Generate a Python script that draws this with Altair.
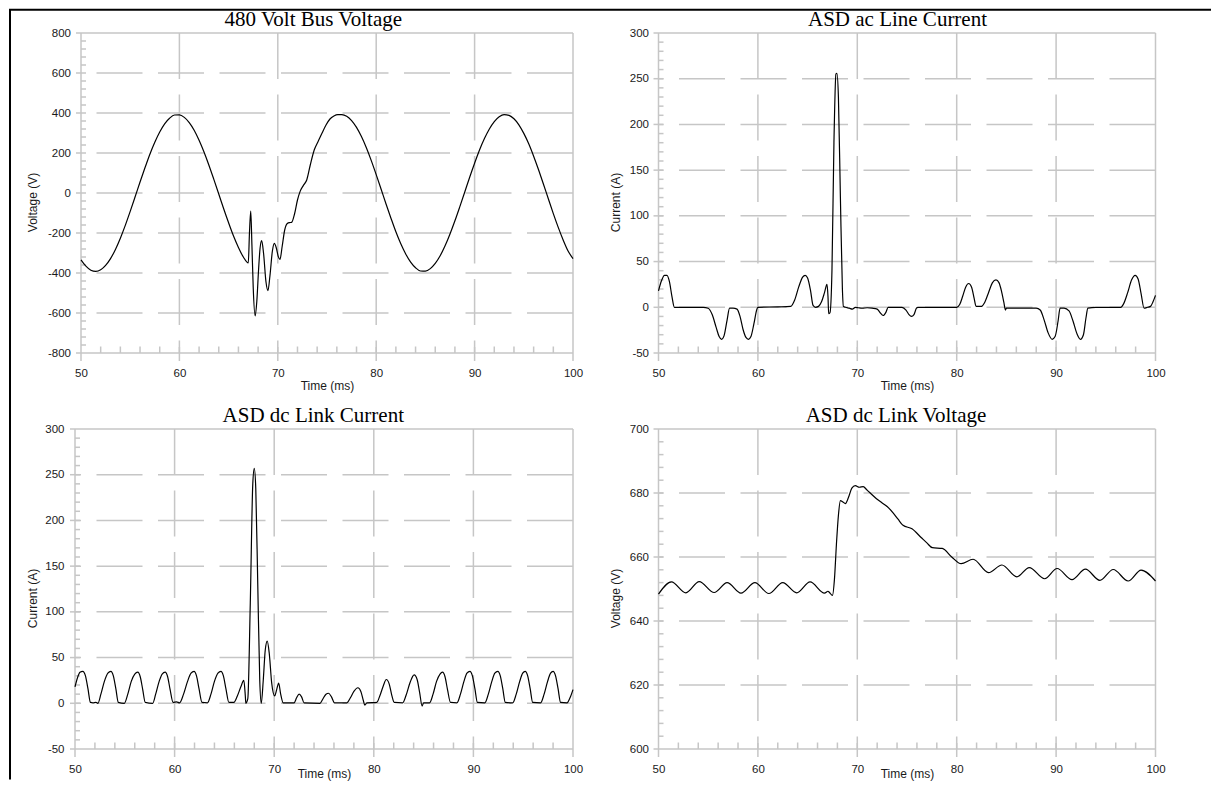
import altair as alt
import pandas as pd

# ---------------- data ----------------
X_TICKS = [50, 60, 70, 80, 90, 100]
X_MINOR = [52, 54, 56, 58, 62, 64, 66, 68, 72, 74, 76, 78, 82, 84, 86, 88, 92, 94, 96, 98]

bus_yticks = [-800, -600, -400, -200, 0, 200, 400, 600, 800]
cur_yticks = [-50, 0, 50, 100, 150, 200, 250, 300]
dcv_yticks = [600, 620, 640, 660, 680, 700]

bus_t = [50.0, 50.5, 51.0, 51.5, 52.0, 52.5, 53.0, 53.5, 54.0, 54.5, 55.0, 55.5,
         56.0, 56.5, 57.0, 57.5, 58.0, 58.5, 59.0, 59.5, 60.0, 60.5, 61.0, 61.5,
         62.0, 62.5, 63.0, 63.5, 64.0, 64.5, 65.0, 65.5, 66.0, 66.5, 67.0, 67.12,
         67.25, 67.37, 67.5, 67.7, 67.87, 68.05, 68.2, 68.36, 68.55, 68.8, 69.0,
         69.2, 69.45, 69.65, 69.85, 70.05, 70.22, 70.45, 70.7, 70.97, 71.2, 71.4,
         71.7, 72.0, 72.26, 72.6, 72.94, 73.3, 73.7, 74.1, 74.5, 74.9, 75.3, 75.7,
         76.1, 76.5, 77.0, 77.5, 78.0, 78.5, 79.0, 79.5, 80.0, 80.5, 81.0, 81.5,
         82.0, 82.5, 83.0, 83.5, 84.0, 84.5, 85.0, 85.5, 86.0, 86.5, 87.0, 87.5,
         88.0, 88.5, 89.0, 89.5, 90.0, 90.5, 91.0, 91.5, 92.0, 92.5, 93.0, 93.5,
         94.0, 94.5, 95.0, 95.5, 96.0, 96.5, 97.0, 97.5, 98.0, 98.5, 99.0, 99.5,
         100.0]
bus_v = [-334, -366, -386, -392, -384, -362, -328, -282, -226, -162, -92, -19,
         55, 126, 194, 254, 305, 346, 374, 390, 391, 378, 352, 314,
         264, 205, 139, 68, -5, -79, -149, -215, -272, -320, -350, -200,
         -90, -260, -470, -615, -540, -380, -275, -238, -300, -445, -488,
         -415, -290, -252, -275, -318, -332, -265, -185, -152, -148, -147,
         -105, -35, 7, 38, 65, 140, 215, 258, 300, 340, 370, 385,
         392, 392, 384, 362, 328, 282, 226, 162, 92, 19, -55, -126,
         -194, -254, -305, -346, -374, -390, -391, -378, -352, -314, -264, -205,
         -139, -68, 5, 79, 149, 215, 272, 320, 357, 381, 392, 388,
         371, 341, 298, 246, 184, 116, 44, -30, -103, -172, -235, -290,
         -328]

ac_t = [50.0, 50.3, 50.6, 50.85, 51.1, 51.35, 51.6, 52.0, 54.5, 55.0, 55.4, 55.8,
        56.1, 56.35, 56.6, 56.9, 57.15, 57.5, 57.9, 58.2, 58.5, 58.8, 59.05, 59.3,
        59.6, 59.9, 60.0, 62.0, 63.3, 63.7, 64.1, 64.5, 64.75, 65.0, 65.3, 65.55,
        65.8, 66.1, 66.4, 66.7, 66.95, 67.05, 67.12, 67.25, 67.45, 67.65, 67.85,
        67.95, 68.1, 68.3, 68.5, 68.6, 68.8, 69.2, 69.5, 69.8, 70.1, 70.5, 71.0,
        71.5, 72.0, 72.3, 72.6, 72.9, 73.1, 74.5, 74.9, 75.2, 75.45, 75.7, 75.95,
        76.1, 80.0, 80.3, 80.6, 80.9, 81.2, 81.5, 81.75, 81.95, 82.5, 82.8, 83.2,
        83.6, 83.95, 84.25, 84.5, 84.75, 84.9, 85.0, 86.0, 88.0, 88.4, 88.8, 89.2,
        89.6, 89.9, 90.2, 90.4, 90.8, 91.3, 91.7, 92.1, 92.45, 92.75, 93.0, 93.2,
        94.0, 96.5, 96.8, 97.2, 97.6, 97.95, 98.25, 98.55, 98.85, 99.2, 99.5,
        99.75, 100.0]
ac_i = [18, 29, 35, 35, 28, 12, 0, 0, 0, -1, -8, -22,
        -32, -35, -31, -14, -1, -1, -2, -10, -24, -33, -35, -32,
        -18, -2, 0, 0.5, 1, 8, 22, 33, 35, 32, 18, 2,
        0, 1, 6, 16, 25, 12, -7, -6, 40, 180, 255,
        256, 230, 120, 20, 1, 0, -1, -2, 0, -0.5, -1, -0.5,
        -1, -2, -6, -9, -5, 0, 0, -3, -8, -10, -8, -1,
        0, 0, 3, 12, 22, 26, 22, 10, 1, 1, 5, 16,
        27, 30, 27, 18, 5, -3, -1, -1, -1, -3, -14, -28,
        -35, -32, -15, -1, -1, -4, -15, -29, -35, -30, -12, -1,
        0, 0, 4, 16, 30, 35, 31, 15, -1, 0, 1,
        6, 13]

dci_t = [50.0, 50.25, 50.5, 50.78, 51.05, 51.3, 51.55, 51.8, 52.1, 52.3, 52.6, 52.95,
         53.3, 53.6, 53.85, 54.1, 54.35, 54.95, 55.3, 55.65, 56.0, 56.3, 56.55, 56.8,
         57.05, 57.8, 58.1, 58.45, 58.75, 59.05, 59.3, 59.55, 59.85, 60.2, 60.5, 60.9,
         61.3, 61.65, 61.95, 62.2, 62.45, 62.75, 63.3, 63.65, 64.0, 64.35, 64.65, 64.9,
         65.15, 65.45, 65.95, 66.3, 66.65, 66.95, 67.1, 67.15, 67.35, 67.6, 67.85, 68.0,
         68.15, 68.35, 68.55, 68.7, 68.9, 69.1, 69.3, 69.5, 69.75, 70.05, 70.25, 70.45,
         70.65, 70.9, 72.0, 72.25, 72.5, 72.75, 73.0, 74.6, 74.9, 75.2, 75.45, 75.75,
         76.05, 77.3, 77.65, 78.0, 78.4, 78.7, 78.95, 79.1, 79.3, 80.3, 80.6, 80.95,
         81.25, 81.55, 81.8, 82.05, 82.9, 83.25, 83.65, 84.05, 84.35, 84.6, 84.85, 85.0,
         85.6, 85.95, 86.3, 86.65, 86.9, 87.15, 87.4, 87.7, 88.35, 88.7, 89.05, 89.35,
         89.65, 89.9, 90.15, 90.4, 91.15, 91.5, 91.85, 92.15, 92.45, 92.7, 92.95, 93.2,
         93.95, 94.3, 94.65, 94.95, 95.2, 95.45, 95.7, 95.95, 96.75, 97.1, 97.45, 97.75,
         98.0, 98.25, 98.5, 98.75, 99.4, 99.7, 100.0]
dci_i = [18, 28, 34, 35, 30, 16, 1, 0.5, 1, 0, 10, 24,
         33, 35, 30, 16, 1, 0, 10, 24, 32, 34, 29, 15,
         1, 0, 10, 24, 32, 34, 29, 15, 1, 1.5, 0.5, 10,
         24, 33, 35, 30, 16, 1, 0.5, 10, 24, 33, 35, 30,
         16, 1, 1, 8, 18, 25, 8, 0, 5, 110, 240, 257,
         235, 130, 25, 0, 25, 58, 68, 55, 22, 8, 15, 22,
         10, 0.5, 0.5, 6, 10, 7, 0.5, 0, 5, 10, 11, 7,
         0.5, 0.5, 6, 13, 17, 13, 3, -2, 0.5, 1, 8, 19,
         26, 21, 9, 1, 0.5, 9, 23, 31, 26, 12, -3, 0.5,
         0.5, 10, 24, 32, 34, 29, 15, 1, 0.5, 10, 24, 33,
         35, 30, 16, 1, 0.5, 10, 24, 33, 35, 30, 16, 1,
         0.5, 10, 24, 33, 35, 30, 16, 1, 0.5, 10, 24, 33,
         35, 30, 16, 1, 0.5, 6, 15]

dcv_t = [50.0, 51.3, 52.75, 54.1, 55.6, 56.9, 58.3, 59.7, 61.1, 62.5, 63.9, 65.25,
         66.7, 67.05, 67.2, 67.5, 67.7, 67.9, 68.1, 68.3, 68.55, 68.8, 69.1, 69.45,
         69.8, 70.2, 70.6, 70.95, 71.3, 71.9, 72.5, 73.0, 73.6, 74.1, 74.6, 75.5,
         76.45, 77.0, 77.55, 78.55, 79.5, 80.45, 81.65, 83.2, 84.55, 86.05, 87.3,
         88.85, 90.1, 91.6, 92.95, 94.4, 95.75, 97.25, 98.55, 100.0]
dcv_v = [648.4, 652.2, 648.8, 652.3, 648.9, 652.0, 648.7, 652.0, 648.6, 652.0, 648.8, 652.2,
         648.7, 649.3, 648.9, 648.0, 653.0, 664.0, 673.0, 677.6, 677.2, 676.7, 678.5, 681.5,
         682.3, 681.8, 682.0, 681.0, 680.0, 678.3, 676.9, 675.8, 673.8, 671.8, 669.9, 668.8,
         666.0, 664.4, 662.9, 662.7, 660.0, 657.9, 659.3, 655.1, 657.5, 653.8, 656.7,
         653.2, 656.4, 652.9, 656.2, 652.7, 656.1, 652.5, 655.9, 652.5]

# ---------------- styling ----------------
H = 320
GRID = "#c6c6c6"
LABEL_EXPR = "datum.value < 0 ? '-' + abs(datum.value) : '' + datum.value"


def build_panel(title_text, ytitle, t, v, yticks, n_minor, width, x0off,
                label_pad, ytitle_x, title_cx, xtitle_y, with_frame=False):
    ymin, ymax = yticks[0], yticks[-1]
    x_lo, x_hi = X_TICKS[0], X_TICKS[-1]
    plotw = width - x0off
    uy = (ymax - ymin) / H
    ux = (x_hi - x_lo) / plotw
    xs = alt.Scale(domain=[x_lo, x_hi], range=[x0off, width], nice=False, zero=False)
    ys = alt.Scale(domain=[ymin, ymax], nice=False, zero=False)

    solid = [
        (x_lo, x_lo, ymin - 8 * uy, ymax),
        (x_hi, x_hi, ymin - 8 * uy, ymax),
        (x_lo - 5 * ux, x_hi, ymin, ymin),
        (x_lo - 5 * ux, x_hi, ymax, ymax),
    ]
    for xt in X_TICKS[1:-1]:
        solid.append((xt, xt, ymin - 8 * uy, ymin + 6 * uy))
    for yt in yticks[1:-1]:
        solid.append((x_lo - 5 * ux, x_lo + 5 * ux, yt, yt))
    for xm in X_MINOR:
        solid.append((xm, xm, ymin, ymin + 6.5 * uy))
    step = (yticks[1] - yticks[0]) / n_minor
    for yt in yticks[:-1]:
        for k in range(1, n_minor):
            ym = yt + k * step
            solid.append((x_lo, x_lo + 5 * ux, ym, ym))

    vgrid = [(xt, xt, ymax, ymin) for xt in X_TICKS[1:-1]]
    hgrid = [(x_hi, x_lo, yt, yt) for yt in yticks[1:-1]]

    def seg_layer(rows, **mark):
        df = pd.DataFrame(rows, columns=["t", "t2", "v", "v2"])
        return alt.Chart(df).mark_rule(**mark).encode(
            x=alt.X("t:Q", scale=xs), x2="t2:Q",
            y=alt.Y("v:Q", scale=ys), y2="v2:Q")

    layers = [
        seg_layer(vgrid, color=GRID, strokeWidth=1.5, strokeDash=[46, 15.5]),
        seg_layer(hgrid, color=GRID, strokeWidth=1.5, strokeDash=[46, 15.5]),
        seg_layer(solid, color=GRID, strokeWidth=1.5),
    ]

    line = alt.Chart(pd.DataFrame({"t": t, "v": v})).mark_line(
        color="black", strokeWidth=1.2, interpolate="monotone"
    ).encode(
        x=alt.X("t:Q", scale=xs, axis=alt.Axis(
            values=X_TICKS, tickCount=len(X_TICKS), title="Time (ms)", labelPadding=14,
            labelFlush=False, labelOverlap=False,
            titleY=xtitle_y, titleBaseline="top", titleAlign="center")),
        y=alt.Y("v:Q", scale=ys, axis=alt.Axis(
            values=yticks, tickCount=len(yticks), title=ytitle, labelPadding=label_pad,
            labelExpr=LABEL_EXPR, labelOverlap=False,
            titleX=ytitle_x, titleY=169, titleAngle=-90, titleBaseline="middle",
            titleAlign="center")),
    )
    layers.append(line)

    one = pd.DataFrame({"k": [0]})
    layers.append(alt.Chart(one).mark_text(
        text=title_text, font="Liberation Serif", fontSize=21, color="black",
        align="center", baseline="alphabetic"
    ).encode(x=alt.value(title_cx), y=alt.value(-7)))

    if with_frame:
        layers.append(alt.Chart(one).mark_rule(color="black", strokeWidth=2).encode(
            x=alt.value(-65), y=alt.value(-23.3), y2=alt.value(746.5)))
        layers.append(alt.Chart(one).mark_rule(color="black", strokeWidth=2).encode(
            x=alt.value(-66), x2=alt.value(1136), y=alt.value(-23.3)))

    return alt.layer(*layers).properties(width=width, height=H)


p1 = build_panel("480 Volt Bus Voltage", "Voltage (V)", bus_t, bus_v, bus_yticks, 5,
                 498, 6, 4.5, -43, 238.3, 27.5, with_frame=True)
p2 = build_panel("ASD ac Line Current", "Current (A)", ac_t, ac_i, cur_yticks, 5,
                 497, 0, 10, -43.5, 239, 27.5)
p3 = build_panel("ASD dc Link Current", "Current (A)", dci_t, dci_i, cur_yticks, 5,
                 498, 0, 11, -42.8, 238.3, 19)
p4 = build_panel("ASD dc Link Voltage", "Voltage (V)", dcv_t, dcv_v, dcv_yticks, 5,
                 497, 0, 10, -43.5, 237.5, 19)

chart = alt.concat(
    p1, p2, p3, p4, columns=2, spacing={"row": 76, "column": 85.5}, bounds="flush"
).properties(
    padding=0
).configure_view(
    strokeWidth=0
).configure_axis(
    domain=False, ticks=False, grid=False, labelOverlap=False,
    labelFont="Liberation Sans", labelFontSize=11.5, labelColor="#1a1a1a",
    titleFont="Liberation Sans", titleFontSize=12, titleFontWeight="normal",
    titleColor="#1a1a1a",
)

chart.save("out.html", embed_options={"renderer": "svg", "actions": False})
